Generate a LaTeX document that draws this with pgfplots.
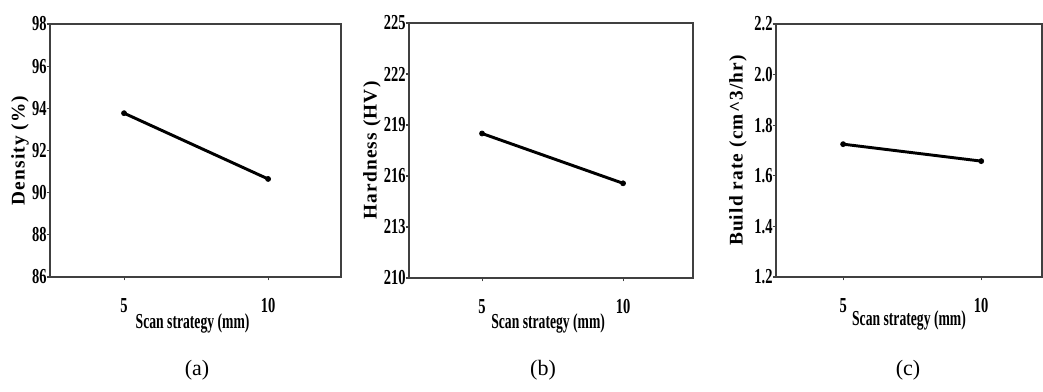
\documentclass[border=0pt]{standalone}
\usepackage{fontspec}
\setmainfont{Liberation Serif}
\newfontfamily\tickfont{Liberation Serif}[FakeStretch=0.68]
\newfontfamily\labelfont{Liberation Serif}[LetterSpace=6]
\newfontfamily\scanfont{Liberation Serif}[FakeStretch=0.64]
\usepackage{pgfplots}
\pgfplotsset{compat=1.18}

\pgfplotsset{panel/.style={
  scale only axis,
  axis line style={black!75, line width=0.8pt},
  tick style={black!75, line width=0.8pt},
  tick align=outside, major tick length=2.5pt,
  xtick pos=bottom, ytick pos=left,
  xtick={5,10},
  /pgf/number format/assume math mode=true,
  tick label style={font=\tickfont\bfseries\fontsize{16}{17}\selectfont},
  xticklabel style={yshift=-10pt},
  yticklabel style={xshift=3.5pt},
  ylabel style={font=\labelfont\bfseries\fontsize{14.5}{16}\selectfont, anchor=center},
  xlabel style={font=\scanfont\bfseries\fontsize{16}{17}\selectfont, anchor=center},
  xlabel={Scan strategy (mm)},
  every axis plot post/.append style={black, line width=2.2pt, mark=*, mark size=1.9pt,
    mark options={black, line width=0.5pt}},
}}

\begin{document}
\begin{tikzpicture}
\useasboundingbox (0,0) rectangle (782.25pt,294pt);

% (a) density
\begin{axis}[panel,
  at={(37.5pt,86.25pt)}, anchor=south west,
  width=218.25pt, height=189.75pt,
  xmin=2.43, xmax=12.53, ymin=86, ymax=98, ytick={86,88,...,98},
  ylabel={Density (\%)},
  ylabel style={at={(axis description cs:-0.103,0.5)}},
  xlabel style={at={(axis description cs:0.49,-0.182)}},
]
\addplot coordinates {(5,93.77) (10,90.65)};
\end{axis}

% (b) hardness
\begin{axis}[panel,
  at={(306.75pt,85.5pt)}, anchor=south west,
  width=213pt, height=191.25pt,
  xmin=2.41, xmax=12.48, ymin=210, ymax=225, ytick={210,213,...,225},
  ylabel={Hardness (HV)},
  ylabel style={at={(axis description cs:-0.130,0.5)}},
  xlabel style={at={(axis description cs:0.49,-0.18)}},
]
\addplot coordinates {(5,218.5) (10,215.57)};
\end{axis}

% (c) build rate
\begin{axis}[panel,
  at={(582pt,86.25pt)}, anchor=south west,
  width=199.5pt, height=189.75pt,
  xmin=2.57, xmax=12.2, ymin=1.2, ymax=2.2, ytick={1.2,1.4,...,2.2},
  yticklabel style={/pgf/number format/.cd, fixed, fixed zerofill, precision=1},
  ylabel={Build rate (cm\textasciicircum 3/hr)},
  ylabel style={at={(axis description cs:-0.143,0.5)}},
  xlabel style={at={(axis description cs:0.5,-0.17)}},
]
\addplot coordinates {(5,1.725) (10,1.658)};
\end{axis}

\node[font=\fontsize{16.5}{18}\selectfont] at (147.75pt,16.5pt) {(a)};
\node[font=\fontsize{16.5}{18}\selectfont] at (407.25pt,16.5pt) {(b)};
\node[font=\fontsize{16.5}{18}\selectfont] at (681pt,16.5pt) {(c)};
\end{tikzpicture}
\end{document}
